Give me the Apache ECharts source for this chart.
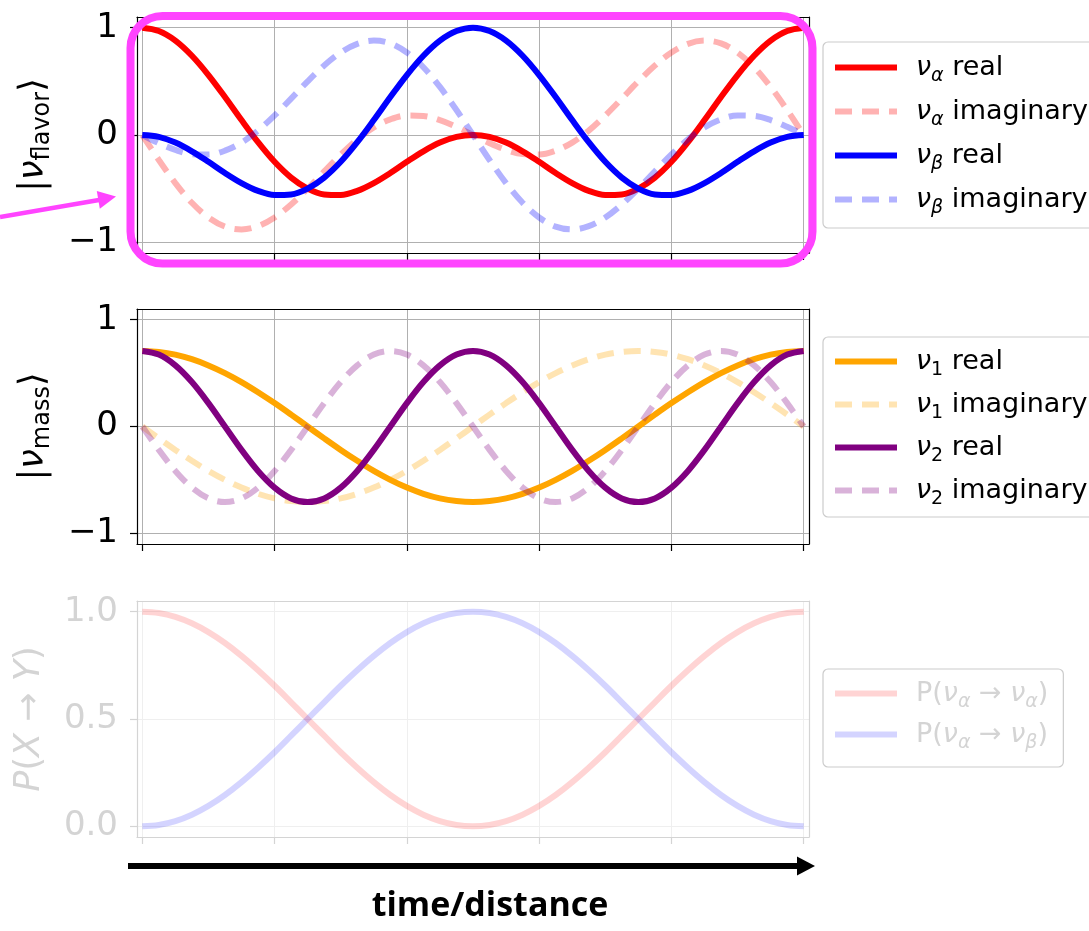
<!DOCTYPE html>
<html>
<head>
<meta charset="utf-8">
<title>Neutrino oscillation</title>
<script src="https://cdn.jsdelivr.net/npm/echarts@6/dist/echarts.min.js"></script>
<style>
html, body { margin: 0; padding: 0; background: #fff; }
#chart { width: 1089px; height: 931px; }
</style>
</head>
<body>
<div id="chart"></div>
<script>
// sample positions along time/distance (tick units)
var t = [0, 0.125, 0.25, 0.375, 0.5, 0.625, 0.75, 0.875, 1, 1.125, 1.25, 1.375, 1.5, 1.625, 1.75, 1.875,
  2, 2.125, 2.25, 2.375, 2.5, 2.625, 2.75, 2.875, 3, 3.125, 3.25, 3.375, 3.5, 3.625, 3.75, 3.875,
  4, 4.125, 4.25, 4.375, 4.5, 4.625, 4.75, 4.875, 5];

// flavor states
var alphaRe = [1, 0.969, 0.880, 0.739, 0.559, 0.354, 0.139, -0.067, -0.25, -0.397, -0.5, -0.554, -0.559, -0.521, -0.448, -0.354,
  -0.25, -0.152, -0.071, -0.018, 0, -0.018, -0.071, -0.152, -0.25, -0.354, -0.448, -0.521, -0.559, -0.554, -0.5, -0.397,
  -0.25, -0.067, 0.139, 0.354, 0.559, 0.739, 0.880, 0.969, 1];
var alphaIm = [0, -0.233, -0.448, -0.632, -0.769, -0.854, -0.880, -0.85, -0.769, -0.648, -0.5, -0.339, -0.182, -0.041, 0.071, 0.146,
  0.182, 0.178, 0.139, 0.076, 0, -0.076, -0.139, -0.178, -0.182, -0.146, -0.071, 0.041, 0.182, 0.339, 0.5, 0.648,
  0.769, 0.85, 0.880, 0.854, 0.769, 0.632, 0.448, 0.233, 0];
var betaRe = [0, -0.018, -0.071, -0.152, -0.25, -0.354, -0.448, -0.521, -0.559, -0.554, -0.5, -0.397, -0.25, -0.067, 0.139, 0.354,
  0.559, 0.739, 0.880, 0.969, 1, 0.969, 0.880, 0.739, 0.559, 0.354, 0.139, -0.067, -0.25, -0.397, -0.5, -0.554,
  -0.559, -0.521, -0.448, -0.354, -0.25, -0.152, -0.071, -0.018, 0];
var betaIm = [0, -0.076, -0.139, -0.178, -0.182, -0.146, -0.071, 0.041, 0.182, 0.339, 0.5, 0.648, 0.769, 0.85, 0.880, 0.854,
  0.769, 0.632, 0.448, 0.233, 0, -0.233, -0.448, -0.632, -0.769, -0.854, -0.880, -0.85, -0.769, -0.648, -0.5, -0.339,
  -0.182, -0.041, 0.071, 0.146, 0.182, 0.178, 0.139, 0.076, 0];

// mass states
var nu1Re = [0.707, 0.698, 0.673, 0.630, 0.572, 0.5, 0.416, 0.321, 0.219, 0.111, 0, -0.111, -0.219, -0.321, -0.416, -0.5,
  -0.572, -0.630, -0.673, -0.698, -0.707, -0.698, -0.673, -0.630, -0.572, -0.5, -0.416, -0.321, -0.219, -0.111, 0, 0.111,
  0.219, 0.321, 0.416, 0.5, 0.572, 0.630, 0.673, 0.698, 0.707];
var nu1Im = [0, -0.111, -0.219, -0.321, -0.416, -0.5, -0.572, -0.630, -0.673, -0.698, -0.707, -0.698, -0.673, -0.630, -0.572, -0.5,
  -0.416, -0.321, -0.219, -0.111, 0, 0.111, 0.219, 0.321, 0.416, 0.5, 0.572, 0.630, 0.673, 0.698, 0.707, 0.698,
  0.673, 0.630, 0.572, 0.5, 0.416, 0.321, 0.219, 0.111, 0];
var nu2Re = [0.707, 0.673, 0.572, 0.416, 0.219, 0, -0.219, -0.416, -0.572, -0.673, -0.707, -0.673, -0.572, -0.416, -0.219, 0,
  0.219, 0.416, 0.572, 0.673, 0.707, 0.673, 0.572, 0.416, 0.219, 0, -0.219, -0.416, -0.572, -0.673, -0.707, -0.673,
  -0.572, -0.416, -0.219, 0, 0.219, 0.416, 0.572, 0.673, 0.707];
var nu2Im = [0, -0.219, -0.416, -0.572, -0.673, -0.707, -0.673, -0.572, -0.416, -0.219, 0, 0.219, 0.416, 0.572, 0.673, 0.707,
  0.673, 0.572, 0.416, 0.219, 0, -0.219, -0.416, -0.572, -0.673, -0.707, -0.673, -0.572, -0.416, -0.219, 0, 0.219,
  0.416, 0.572, 0.673, 0.707, 0.673, 0.572, 0.416, 0.219, 0];

// probabilities
var pAA = [1, 0.994, 0.976, 0.946, 0.905, 0.854, 0.794, 0.727, 0.655, 0.578, 0.5, 0.422, 0.345, 0.273, 0.206, 0.146,
  0.095, 0.054, 0.024, 0.006, 0, 0.006, 0.024, 0.054, 0.095, 0.146, 0.206, 0.273, 0.345, 0.422, 0.5, 0.578,
  0.655, 0.727, 0.794, 0.854, 0.905, 0.946, 0.976, 0.994, 1];
var pAB = [0, 0.006, 0.024, 0.054, 0.095, 0.146, 0.206, 0.273, 0.345, 0.422, 0.5, 0.578, 0.655, 0.727, 0.794, 0.854,
  0.905, 0.946, 0.976, 0.994, 1, 0.994, 0.976, 0.946, 0.905, 0.854, 0.794, 0.727, 0.655, 0.578, 0.5, 0.422,
  0.345, 0.273, 0.206, 0.146, 0.095, 0.054, 0.024, 0.006, 0];

// ticks
var xTicks = [0, 1, 2, 3, 4, 5];
var ampTicks = [-1, 0, 1];
var probTicks = [0, 0.5, 1];

// legend entries
var flavorNames = ['να real', 'να imaginary', 'νβ real', 'νβ imaginary'];
var massNames = ['ν1 real', 'ν1 imaginary', 'ν2 real', 'ν2 imaginary'];
var probNames = ['P(να→να)', 'P(να→νβ)'];

var FONT = 'DejaVu Sans';
var legendText = {
  'να real': '{m0|ν}{s|α}{t| real}',
  'να imaginary': '{m0|ν}{s|α}{t| imaginary}',
  'νβ real': '{m0|ν}{s|β}{t| real}',
  'νβ imaginary': '{m0|ν}{s|β}{t| imaginary}',
  'ν1 real': '{m0|ν}{n|1}{t| real}',
  'ν1 imaginary': '{m0|ν}{n|1}{t| imaginary}',
  'ν2 real': '{m0|ν}{n|2}{t| real}',
  'ν2 imaginary': '{m0|ν}{n|2}{t| imaginary}',
  'P(να→να)': '{t0|P(}{m|ν}{s|α}{t| → }{m|ν}{s|α}{t|)}',
  'P(να→νβ)': '{t0|P(}{m|ν}{s|α}{t| → }{m|ν}{s|β}{t|)}'
};
var legendRich = {
  m0: { fontFamily: FONT, fontSize: 27, fontStyle: 'italic', verticalAlign: 'middle', padding: [0, 0, 0, 14] },
  m: { fontFamily: FONT, fontSize: 27, fontStyle: 'italic', verticalAlign: 'middle' },
  s: { fontFamily: FONT, fontSize: 19, fontStyle: 'italic', verticalAlign: 'middle', padding: [18, 0, 0, 0] },
  n: { fontFamily: FONT, fontSize: 19, verticalAlign: 'middle', padding: [18, 0, 0, 0] },
  t: { fontFamily: FONT, fontSize: 27, verticalAlign: 'middle' },
  t0: { fontFamily: FONT, fontSize: 27, verticalAlign: 'middle', padding: [0, 0, 0, 14] }
};

var nameRich = {
  u: { fontFamily: FONT, fontSize: 35, verticalAlign: 'middle' },
  i: { fontFamily: FONT, fontSize: 35, fontStyle: 'italic', verticalAlign: 'middle' },
  s: { fontFamily: FONT, fontSize: 24, verticalAlign: 'middle', padding: [18, 0, 0, 0] }
};

function pairs(ys) {
  return t.map(function (x, i) { return [x, ys[i]]; });
}

function line(name, ys, idx, color, dashed, opacity) {
  return {
    name: name, type: 'line', xAxisIndex: idx, yAxisIndex: idx,
    data: pairs(ys), symbol: 'none', showSymbol: false, smooth: 0.35,
    lineStyle: { color: color, width: 6, type: dashed ? [17, 10] : 'solid', opacity: opacity, cap: 'butt' },
    itemStyle: { color: color },
    emphasis: { disabled: true }
  };
}

function legend(names, top, gap, pad, color) {
  return {
    data: names, orient: 'vertical', left: 823, top: top,
    itemWidth: 62, itemHeight: 14, itemGap: gap, padding: pad,
    borderColor: '#cccccc', borderWidth: 1.2, borderRadius: 5, backgroundColor: '#ffffff',
    selectedMode: false,
    itemStyle: { opacity: 0 },
    lineStyle: { width: 6 },
    textStyle: { color: color, rich: legendRich },
    formatter: function (n) { return legendText[n]; }
  };
}

function grid(top, height) {
  return { left: 137, top: top, width: 672, height: height, show: true,
    borderColor: null, borderWidth: 0, containLabel: false, outerBoundsMode: 'none' };
}

function xAxis(idx, ink, gridInk) {
  return {
    type: 'value', gridIndex: idx, min: -0.04, max: 5.04, splitNumber: 5,
    axisLine: { show: true, onZero: false, lineStyle: { color: ink, width: 1.2 } },
    axisTick: { show: true, length: 7, customValues: xTicks, lineStyle: { color: ink, width: 1.2 } },
    axisLabel: { show: false },
    splitLine: { show: true, lineStyle: { color: gridInk, width: 1 } }
  };
}

function yAxis(idx, min, max, ticks, ink, gridInk, labelInk, name, gap, fmt) {
  return {
    type: 'value', gridIndex: idx, min: min, max: max, splitNumber: 2,
    axisLine: { show: true, onZero: false, lineStyle: { color: ink, width: 1.2 } },
    axisTick: { show: true, length: 7, customValues: ticks, lineStyle: { color: ink, width: 1.2 } },
    axisLabel: { customValues: ticks, fontFamily: FONT, fontSize: 34, color: labelInk, margin: 19, formatter: fmt },
    splitLine: { show: true, lineStyle: { color: gridInk, width: 1 } },
    name: name, nameLocation: 'middle', nameRotate: 90, nameGap: gap,
    nameTextStyle: { color: labelInk, rich: nameRich }
  };
}

// top/right spines drawn as secondary axes
function spine(kind, idx, ink, pos) {
  var ax = {
    type: 'value', gridIndex: idx, position: pos, show: true,
    axisLine: { show: true, onZero: false, lineStyle: { color: ink, width: 1.2 } },
    axisTick: { show: false }, axisLabel: { show: false }, splitLine: { show: false }
  };
  if (kind === 'x') { ax.min = -0.04; ax.max = 5.04; } else { ax.min = 0; ax.max = 1; }
  return ax;
}

function amp(v) { return String(v).replace('-', '\u2212'); }
function prob(v) { return v.toFixed(1); }

var chart = echarts.init(document.getElementById('chart'), null, { renderer: 'canvas' });

var option = {
  animation: false,
  backgroundColor: '#ffffff',
  grid: [grid(17, 236), grid(309, 235), grid(601, 236)],
  xAxis: [
    xAxis(0, '#000000', '#b0b0b0'),
    xAxis(1, '#000000', '#b0b0b0'),
    xAxis(2, '#d4d4d4', '#efefef'),
    spine('x', 0, '#000000', 'top'),
    spine('x', 1, '#000000', 'top'),
    spine('x', 2, '#d4d4d4', 'top')
  ],
  yAxis: [
    yAxis(0, -1.1, 1.1, ampTicks, '#000000', '#b0b0b0', '#000000',
      '{u||}{i|ν}{s|flavor}{u|⟩}', 82, amp),
    yAxis(1, -1.1, 1.1, ampTicks, '#000000', '#b0b0b0', '#000000',
      '{u||}{i|ν}{s|mass}{u|⟩}', 82, amp),
    yAxis(2, -0.05, 1.05, probTicks, '#d4d4d4', '#efefef', '#d4d4d4',
      '{i|P}{u|(}{i|X}{u| → }{i|Y}{u|)}', 90, prob),
    spine('y', 0, '#000000', 'right'),
    spine('y', 1, '#000000', 'right'),
    spine('y', 2, '#d4d4d4', 'right')
  ],
  legend: [
    legend(flavorNames, 42, 12, [12, 10, 10, 9], '#000000'),
    legend(massNames, 337, 11, [11, 10, 8, 9], '#000000'),
    legend(probNames, 669, 9, [11, 15, 14, 9], '#d4d4d4')
  ],
  series: [
    line(flavorNames[0], alphaRe, 0, '#ff0000', false, 1),
    line(flavorNames[1], alphaIm, 0, '#ff0000', true, 0.3),
    line(flavorNames[2], betaRe, 0, '#0000ff', false, 1),
    line(flavorNames[3], betaIm, 0, '#0000ff', true, 0.3),
    line(massNames[0], nu1Re, 1, '#ffa500', false, 1),
    line(massNames[1], nu1Im, 1, '#ffa500', true, 0.3),
    line(massNames[2], nu2Re, 1, '#800080', false, 1),
    line(massNames[3], nu2Im, 1, '#800080', true, 0.3),
    line(probNames[0], pAA, 2, '#ff0000', false, 0.17),
    line(probNames[1], pAB, 2, '#0000ff', false, 0.17)
  ],
  graphic: [
    { type: 'rect', z: 100, shape: { x: 130.5, y: 16, width: 682, height: 247.5, r: 32 },
      style: { fill: 'none', stroke: '#ff44ff', lineWidth: 8 } },
    { type: 'line', z: 100, shape: { x1: 0, y1: 217, x2: 99, y2: 200 },
      style: { stroke: '#ff44ff', lineWidth: 4.5 } },
    { type: 'polygon', z: 100, shape: { points: [[116, 196.5], [99.8, 208.8], [96.8, 191]] },
      style: { fill: '#ff44ff' } },
    { type: 'line', z: 100, shape: { x1: 128, y1: 866, x2: 798, y2: 866 },
      style: { stroke: '#000000', lineWidth: 6 } },
    { type: 'polygon', z: 100, shape: { points: [[815, 866], [797, 856.5], [797, 875.5]] },
      style: { fill: '#000000' } },
    { type: 'text', z: 100, x: 490, y: 906,
      style: { text: 'time/distance', fontFamily: 'Open Sans', fontWeight: 'bold', fontSize: 34,
        fill: '#000000', align: 'center', verticalAlign: 'middle' } }
  ]
};

chart.setOption(option);
</script>
</body>
</html>
